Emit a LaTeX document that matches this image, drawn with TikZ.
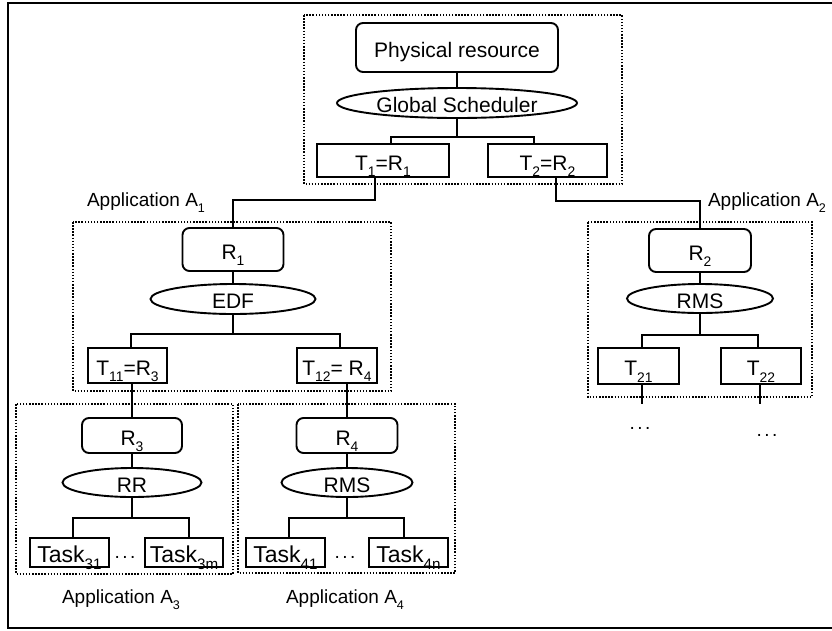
\documentclass[tikz,border=0pt]{standalone}
\usepackage{fontspec}
\setmainfont{Liberation Sans}
\usetikzlibrary{shapes.geometric}
% lowered, smaller index text (T_1, R_3, Task_31 ...)
\newcommand\lowsub[1]{\raisebox{-0.32em}{\scalebox{0.66}{#1}}}
% three spaced dots
\newcommand\spdots{.\kern2.5pt.\kern2.5pt.}

\begin{document}
\begin{tikzpicture}[x=1pt,y=-1pt,
  box/.style={draw, line width=1.9pt, inner sep=0pt, text height=19pt, text depth=0pt,
    font=\fontsize{21}{21}\selectfont},
  resbox/.style={box, rounded corners=7pt},
  sched/.style={box, ellipse},
  taskbox/.style={box, font=\fontsize{23}{23}\selectfont},
  group/.style={draw, line width=1.5pt, dash pattern=on 1.5pt off 1.6pt},
  conn/.style={line width=1.9pt},
  applabel/.style={inner sep=0pt, font=\fontsize{19}{19}\selectfont},
  dots/.style={inner sep=0pt, font=\fontsize{19}{19}\selectfont},
]
\useasboundingbox (0,0) rectangle (832,630);

% outer frame (open on the right)
\draw[line width=2.6pt] (832,3) -- (8,3) -- (8,628) -- (832,628);

% dotted groups
\draw[group] (304,15) rectangle (622,184);
\draw[group] (73,222) rectangle (391,391);
\draw[group] (588,222) rectangle (812,397);
\draw[group] (16,404) rectangle (233,574);
\draw[group] (238,404) rectangle (455,573);

% top level
\node[resbox, minimum width=202pt, minimum height=49pt] (phys) at (457,47.5) {Physical resource};
\node[sched, minimum width=240pt, minimum height=30pt] (gs) at (457,103) {Global Scheduler};
\node[box, minimum width=132pt, minimum height=33pt] (t1) at (383,160.5) {T\lowsub{1}=R\lowsub{1}};
\node[box, minimum width=119pt, minimum height=33pt] (t2) at (547.5,160.5) {T\lowsub{2}=R\lowsub{2}};

% application A1
\node[applabel] (lA1) at (146,203) {Application A\lowsub{1}};
\node[resbox, minimum width=101pt, minimum height=43pt] (r1) at (233,249.5) {R\lowsub{1}};
\node[sched, minimum width=165pt, minimum height=30pt] (edf) at (233,299) {EDF};
\node[box, minimum width=79pt, minimum height=35pt] (t11) at (127.5,365.5) {T\lowsub{11}=R\lowsub{3}};
\node[box, minimum width=80pt, minimum height=35pt] (t12) at (337,365.5) {T\lowsub{12}= R\lowsub{4}};

% application A2
\node[applabel] (lA2) at (767,203) {Application A\lowsub{2}};
\node[resbox, minimum width=102pt, minimum height=43pt] (r2) at (700,250.5) {R\lowsub{2}};
\node[sched, minimum width=146pt, minimum height=29pt] (rms2) at (700,298.5) {RMS};
\node[box, minimum width=81pt, minimum height=36pt] (t21) at (638.5,366) {T\lowsub{21}};
\node[box, minimum width=80pt, minimum height=36pt] (t22) at (761,366) {T\lowsub{22}};
\node[dots] (d21) at (640,428) {\spdots};
\node[dots] (d22) at (767,435) {\spdots};

% application A3
\node[resbox, minimum width=100pt, minimum height=35pt] (r3) at (132,435.5) {R\lowsub{3}};
\node[sched, minimum width=139pt, minimum height=29pt] (rr) at (132,482.5) {RR};
\node[taskbox, minimum width=79pt, minimum height=29pt] (task31) at (69.5,552.5) {Task\lowsub{31}};
\node[taskbox, minimum width=78pt, minimum height=29pt] (task3m) at (184,552.5) {Task\lowsub{3m}};
\node[dots] (d3) at (125,557) {\spdots};
\node[applabel] (lA3) at (121,600) {Application A\lowsub{3}};

% application A4
\node[resbox, minimum width=101pt, minimum height=35pt] (r4) at (347,435.5) {R\lowsub{4}};
\node[sched, minimum width=131pt, minimum height=29pt] (rms4) at (347,482.5) {RMS};
\node[taskbox, minimum width=79pt, minimum height=29pt] (task41) at (285.5,552.5) {Task\lowsub{41}};
\node[taskbox, minimum width=79pt, minimum height=29pt] (task4n) at (408.5,552.5) {Task\lowsub{4n}};
\node[dots] (d4) at (345,557) {\spdots};
\node[applabel] (lA4) at (345,600) {Application A\lowsub{4}};

% connectors: top level
\draw[conn] (phys) -- (gs);
\draw[conn] (gs.south) -- ++(0,18) coordinate (j0);
\draw[conn] ([xshift=8pt]t1.north) |- (j0) -| ([xshift=-13.5pt]t2.north);
\draw[conn] ([xshift=-8pt]t1.south) -- ++(0,22) -| (r1.north);
\draw[conn] ([xshift=8.5pt]t2.south) -- ++(0,23) -| (r2.north);

% connectors: A1
\draw[conn] (r1) -- (edf);
\draw[conn] (edf.south) -- ++(0,19) coordinate (j1);
\draw[conn] ([xshift=3.5pt]t11.north) |- (j1) -| ([xshift=3pt]t12.north);
\draw[conn] (r3.north |- t11.south) -- (r3.north);
\draw[conn] (r4.north |- t12.south) -- (r4.north);

% connectors: A2
\draw[conn] (r2) -- (rms2);
\draw[conn] (rms2.south) -- ++(0,21) coordinate (j2);
\draw[conn] ([xshift=3.5pt]t21.north) |- (j2) -| ([xshift=-3pt]t22.north);
\coordinate (e21) at (642,404);
\coordinate (e22) at (760,404);
\draw[conn] ([xshift=3.5pt]t21.south) -- (e21);
\draw[conn] ([xshift=-1pt]t22.south) -- (e22);

% connectors: A3
\draw[conn] (r3) -- (rr);
\draw[conn] (rr.south) -- ++(0,20) coordinate (j3);
\draw[conn] ([xshift=3.5pt]task31.north) |- (j3) -| ([xshift=5pt]task3m.north);

% connectors: A4
\draw[conn] (r4) -- (rms4);
\draw[conn] (rms4.south) -- ++(0,20) coordinate (j4);
\draw[conn] ([xshift=3.5pt]task41.north) |- (j4) -| ([xshift=-4.5pt]task4n.north);
\end{tikzpicture}
\end{document}
